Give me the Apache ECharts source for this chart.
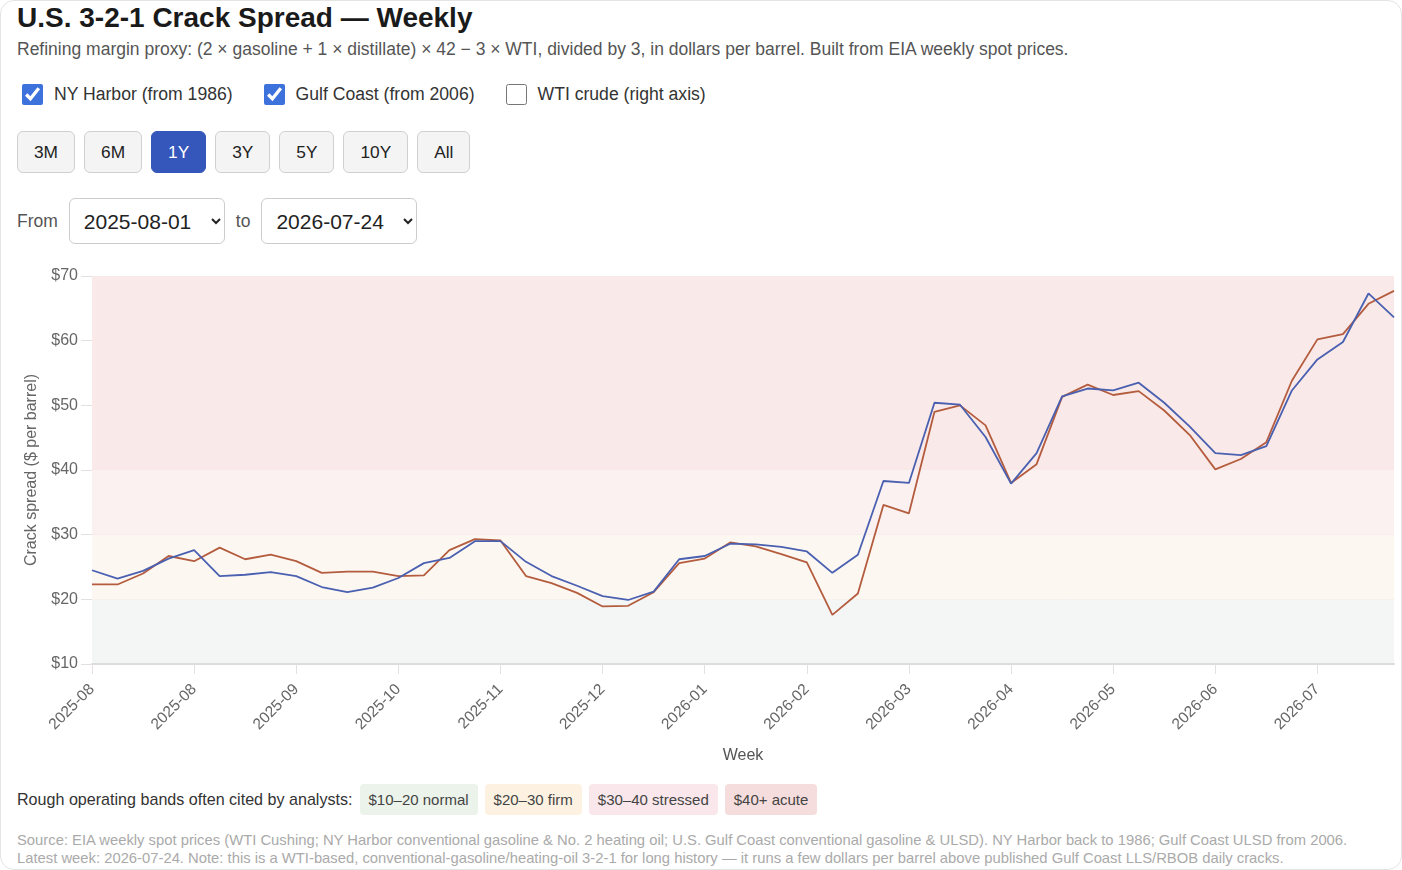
<!DOCTYPE html>
<html>
<head>
<meta charset="utf-8">
<title>U.S. 3-2-1 Crack Spread — Weekly</title>
<script src="https://cdn.jsdelivr.net/npm/echarts@6/dist/echarts.min.js"></script>
<style>
  body { margin: 0; background: #fff; font-family: "Liberation Sans", Arial, sans-serif; color: #222; }
  .card { position: relative; width: 1402px; height: 870px; box-sizing: border-box; border: 1px solid #e4e4e4; border-radius: 14px; overflow: hidden; }
  h1 { position: absolute; left: 16px; top: 0; margin: 0; font-size: 28px; font-weight: bold; line-height: 34px; color: #1a1a1a; }
  .sub { position: absolute; left: 16px; top: 38px; font-size: 17.5px; color: #555; }
  .checks { position: absolute; left: 21px; top: 83px; display: flex; align-items: center; font-size: 17.6px; color: #333; }
  .checks label { display: flex; align-items: center; margin-right: 31px; }
  .checks input { width: 21px; height: 21px; margin: 0 11px 0 0; accent-color: #3d72dc; }
  .btns { position: absolute; left: 16px; top: 130px; display: flex; }
  .btns button { height: 42px; margin-right: 9px; padding: 0 16px; font-size: 17.3px; font-family: inherit; background: #f4f4f4; border: 1px solid #d0d0d0; border-radius: 6px; color: #222; }
  .btns button.on { background: #3557bb; border-color: #3557bb; color: #fff; }
  .range { position: absolute; left: 16px; top: 197px; display: flex; align-items: center; font-size: 17.5px; color: #555; }
  .range select { height: 46px; width: 156px; margin: 0 11px; padding: 0 10px; font-size: 21px; font-family: inherit; color: #222; background: #fff; border: 1px solid #ccc; border-radius: 6px; }
  #chart { position: absolute; left: 0; top: 258px; width: 1402px; height: 512px; }
  .bands { position: absolute; left: 16px; top: 783px; display: flex; align-items: center; font-size: 16.1px; color: #333; }
  .bands span.chip { margin-left: 7px; padding: 7px 9px; border-radius: 4px; color: #444; font-size: 15px; }
  .src { position: absolute; left: 16px; top: 830px; font-size: 14.8px; line-height: 18px; color: #aaa; }
</style>
</head>
<body>
<div class="card">
  <h1>U.S. 3-2-1 Crack Spread — Weekly</h1>
  <div class="sub">Refining margin proxy: (2 × gasoline + 1 × distillate) × 42 − 3 × WTI, divided by 3, in dollars per barrel. Built from EIA weekly spot prices.</div>
  <div class="checks">
    <label><input type="checkbox" checked>NY Harbor (from 1986)</label>
    <label><input type="checkbox" checked>Gulf Coast (from 2006)</label>
    <label><input type="checkbox">WTI crude (right axis)</label>
  </div>
  <div class="btns">
    <button>3M</button><button>6M</button><button class="on">1Y</button><button>3Y</button><button>5Y</button><button>10Y</button><button>All</button>
  </div>
  <div class="range">
    From
    <select><option>2025-08-01</option></select>
    to
    <select><option>2026-07-24</option></select>
  </div>
  <div id="chart"></div>
  <div class="bands">
    Rough operating bands often cited by analysts:
    <span class="chip" style="background:#ebf3ea">$10–20 normal</span>
    <span class="chip" style="background:#fdf2e2">$20–30 firm</span>
    <span class="chip" style="background:#f9e7eb">$30–40 stressed</span>
    <span class="chip" style="background:#f6dddd">$40+ acute</span>
  </div>
  <div class="src">Source: EIA weekly spot prices (WTI Cushing; NY Harbor conventional gasoline &amp; No. 2 heating oil; U.S. Gulf Coast conventional gasoline &amp; ULSD). NY Harbor back to 1986; Gulf Coast ULSD from 2006.<br>Latest week: 2026-07-24. Note: this is a WTI-based, conventional-gasoline/heating-oil 3-2-1 for long history — it runs a few dollars per barrel above published Gulf Coast LLS/RBOB daily cracks.</div>
</div>

<script>
// 周度日期
var weeks = [
  '2025-08-01','2025-08-08','2025-08-15','2025-08-22','2025-08-29',
  '2025-09-05','2025-09-12','2025-09-19','2025-09-26',
  '2025-10-03','2025-10-10','2025-10-17','2025-10-24','2025-10-31',
  '2025-11-07','2025-11-14','2025-11-21','2025-11-28',
  '2025-12-05','2025-12-12','2025-12-19','2025-12-26',
  '2026-01-02','2026-01-09','2026-01-16','2026-01-23','2026-01-30',
  '2026-02-06','2026-02-13','2026-02-20','2026-02-27',
  '2026-03-06','2026-03-13','2026-03-20','2026-03-27',
  '2026-04-03','2026-04-10','2026-04-17','2026-04-24',
  '2026-05-01','2026-05-08','2026-05-15','2026-05-22','2026-05-29',
  '2026-06-05','2026-06-12','2026-06-19','2026-06-26',
  '2026-07-03','2026-07-10','2026-07-17','2026-07-24'
];

// NY Harbor 3-2-1 ($/bbl)
var nyHarbor = [
  24.5, 23.2, 24.4, 26.3, 27.6, 23.6, 23.8, 24.2, 23.6, 21.9,
  21.1, 21.8, 23.3, 25.6, 26.4, 29.0, 29.0, 25.8, 23.6, 22.1,
  20.5, 19.9, 21.2, 26.2, 26.7, 28.6, 28.5, 28.1, 27.4, 24.1,
  26.9, 38.3, 38.0, 50.4, 50.1, 45.1, 37.9, 42.6, 51.4, 52.6,
  52.3, 53.5, 50.4, 46.7, 42.6, 42.3, 43.7, 52.3, 57.1, 59.8,
  67.3, 63.6
];

// Gulf Coast 3-2-1 ($/bbl)
var gulfCoast = [
  22.3, 22.3, 24.0, 26.7, 25.9, 28.0, 26.2, 26.9, 25.9, 24.1,
  24.3, 24.3, 23.6, 23.7, 27.6, 29.3, 29.1, 23.6, 22.5, 21.0,
  18.9, 19.0, 21.1, 25.6, 26.3, 28.8, 28.2, 27.0, 25.7, 17.6,
  20.9, 34.6, 33.3, 49.0, 50.0, 46.9, 38.0, 40.9, 51.3, 53.2,
  51.6, 52.2, 49.2, 45.4, 40.1, 41.7, 44.3, 53.8, 60.2, 61.0,
  65.7, 67.7
];

// 背景区间
var bandEdges = [10, 20, 30, 40, 70];
var bandColors = ['#f4f6f5', '#fdf7f2', '#fbf1f1', '#f9e9e8'];

var yMin = 10, yMax = 70, yStep = 10;

var chart = echarts.init(document.getElementById('chart'));

var bandAreas = [];
for (var i = 0; i < bandColors.length; i++) {
  bandAreas.push([
    { yAxis: bandEdges[i], itemStyle: { color: bandColors[i] } },
    { yAxis: bandEdges[i + 1] }
  ]);
}

var option = {
  animation: false,
  grid: { left: 91, right: 9, top: 17, bottom: 107 },
  tooltip: { trigger: 'axis' },
  xAxis: {
    type: 'category',
    data: weeks,
    boundaryGap: false,
    name: 'Week',
    nameLocation: 'middle',
    nameGap: 84,
    nameTextStyle: { color: '#555', fontSize: 16, fontFamily: 'Liberation Sans' },
    axisLine: { lineStyle: { color: '#dcdcdc', width: 2 } },
    axisTick: { interval: 3, length: 10, lineStyle: { color: '#e4e0e0' } },
    axisLabel: {
      interval: 3,
      rotate: 45,
      color: '#666',
      fontSize: 15.5,
      fontFamily: 'Liberation Sans',
      margin: 23,
      formatter: function (v) { return v.slice(0, 7); }
    },
    splitLine: { show: true, interval: 3, lineStyle: { color: '#e2dcdc' } }
  },
  yAxis: {
    type: 'value',
    min: yMin,
    max: yMax,
    interval: yStep,
    name: 'Crack spread ($ per barrel)',
    nameLocation: 'middle',
    nameGap: 52,
    nameTextStyle: { color: '#666', fontSize: 16, fontFamily: 'Liberation Sans' },
    axisLine: { show: false },
    axisTick: { show: true, length: 11, lineStyle: { color: '#e4e0e0' } },
    axisLabel: { color: '#666', fontSize: 16, fontFamily: 'Liberation Sans', margin: 14, formatter: '${value}' },
    splitLine: { lineStyle: { color: '#e2dcdc' } }
  },
  series: [
    {
      name: 'Gulf Coast',
      type: 'line',
      data: gulfCoast,
      showSymbol: false,
      lineStyle: { color: '#b45c3e', width: 1.8 },
      itemStyle: { color: '#b45c3e' },
      z: 3,
      markArea: { silent: true, data: bandAreas, z: 0 }
    },
    {
      name: 'NY Harbor',
      type: 'line',
      data: nyHarbor,
      showSymbol: false,
      lineStyle: { color: '#4a60b0', width: 1.8 },
      itemStyle: { color: '#4a60b0' },
      z: 4
    }
  ]
};

chart.setOption(option);
</script>
</body>
</html>
